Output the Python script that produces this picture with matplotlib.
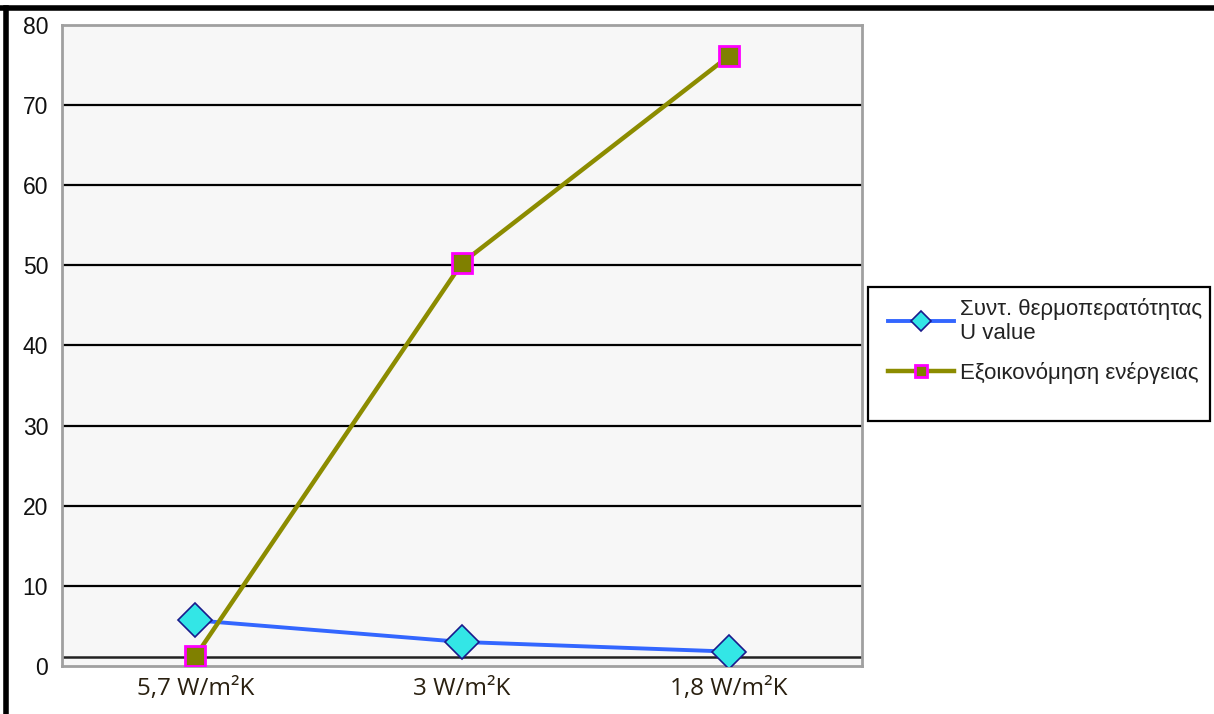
import matplotlib
matplotlib.use("Agg")
import matplotlib.pyplot as plt
from matplotlib.lines import Line2D
from matplotlib.patches import Rectangle

categories = ["5,7 W/m²K", "3 W/m²K", "1,8 W/m²K"]
u_value = [5.7, 3.0, 1.8]
energy_saving = [1.2, 50.3, 76.1]
y_ticks = [0, 10, 20, 30, 40, 50, 60, 70, 80]
u_label = "Συντ. θερμοπερατότητας\nU value"
energy_label = "Εξοικονόμηση ενέργειας"

W, H = 1214, 714
fig = plt.figure(figsize=(W / 100, H / 100), dpi=100)
fig.patch.set_facecolor("white")

ax = fig.add_axes([62 / W, 1 - 666 / H, 800 / W, 641 / H])
ax.set_facecolor("#f7f7f7")
for s in ax.spines.values():
    s.set_color("#a0a0a0")
    s.set_linewidth(2)

x = list(range(len(categories)))
ax.set_xlim(-0.5, len(categories) - 0.5)
ax.set_ylim(0, 80)

for v in y_ticks[1:-1]:
    ax.axhline(v, color="black", lw=1.6, zorder=1)
ax.axhline(1.1, color="#222222", lw=1.8, zorder=1)

l1, = ax.plot(x, u_value, color="#3366ff", lw=2.8, marker="D", markersize=17,
              markerfacecolor="#33e6e6", markeredgecolor="#1a1a8c",
              markeredgewidth=1.2, zorder=3, label=u_label)
l2, = ax.plot(x, energy_saving, color="#8c8c00", lw=3.2, marker="s", markersize=14.5,
              markerfacecolor="#808000", markeredgecolor="#ff00ff",
              markeredgewidth=2, zorder=4, label=energy_label)

ax.set_xticks(x)
ax.set_xticklabels(categories, fontsize=17.5, color="#2a2010", family="Open Sans")
ax.set_yticks(y_ticks)
ax.set_yticklabels([str(v) for v in y_ticks], fontsize=16.5, color="#111111",
                   family="Liberation Sans")
ax.tick_params(axis="both", length=0)
ax.tick_params(axis="x", pad=8)
ax.tick_params(axis="y", pad=10)

# legend box
fig.add_artist(Rectangle((868 / W, 1 - 421 / H), 342 / W, 134 / H,
                         transform=fig.transFigure, facecolor="white",
                         edgecolor="black", lw=1.6, zorder=5))
leg = fig.legend(handles=[l1, l2], labels=[u_label, energy_label],
                 loc="upper left", bbox_to_anchor=(872 / W, 1 - 282 / H),
                 frameon=False,
                 prop={"family": "Liberation Sans", "size": 16},
                 handlelength=3.0, handletextpad=0.25, borderpad=0.2,
                 labelspacing=0.8, markerscale=0.6)
leg.set_zorder(6)
for t in leg.get_texts():
    t.set_color("#222222")

# outer frame edges along the top and left
fig.add_artist(Line2D([0, 1], [1 - 7.5 / H, 1 - 7.5 / H], color="black", lw=4,
                      transform=fig.transFigure))
fig.add_artist(Line2D([5.5 / W, 5.5 / W], [0, 1 - 7.5 / H], color="black", lw=4,
                      transform=fig.transFigure))

fig.savefig("out.png", dpi=100, facecolor="white")
